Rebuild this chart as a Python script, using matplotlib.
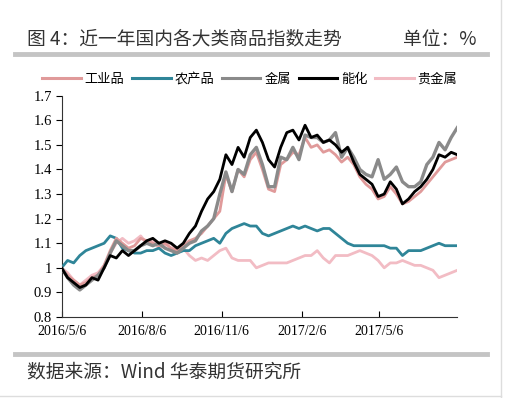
import pandas as pd
import matplotlib.pyplot as plt
from matplotlib.lines import Line2D

plt.rcParams['font.family'] = ['Noto Sans CJK SC', 'DejaVu Sans']

# weekly samples, 2016/5/6 .. 2017/8/4
dates = pd.date_range('2016-05-06', periods=66, freq='7D')

industrial = [1.00, 0.97, 0.95, 0.93, 0.94, 0.96, 0.97, 1.01, 1.07, 1.12,
              1.10, 1.08, 1.09, 1.12, 1.11, 1.10, 1.09, 1.10, 1.08, 1.07,
              1.09, 1.11, 1.12, 1.14, 1.17, 1.20, 1.23, 1.38, 1.31, 1.40,
              1.37, 1.44, 1.47, 1.40, 1.32, 1.31, 1.42, 1.44, 1.47, 1.46,
              1.53, 1.49, 1.50, 1.47, 1.48, 1.46, 1.43, 1.45, 1.42, 1.37,
              1.34, 1.32, 1.28, 1.29, 1.33, 1.30, 1.26, 1.27, 1.29, 1.31,
              1.34, 1.37, 1.40, 1.43, 1.44, 1.45]
agri = [1.00, 1.03, 1.02, 1.05, 1.07, 1.08, 1.09, 1.10, 1.13, 1.12,
        1.08, 1.07, 1.06, 1.06, 1.07, 1.07, 1.08, 1.06, 1.05, 1.06,
        1.07, 1.07, 1.09, 1.10, 1.11, 1.12, 1.10, 1.14, 1.16, 1.17,
        1.18, 1.17, 1.17, 1.14, 1.13, 1.14, 1.15, 1.16, 1.17, 1.16,
        1.17, 1.16, 1.15, 1.16, 1.16, 1.14, 1.12, 1.10, 1.09, 1.09,
        1.09, 1.09, 1.09, 1.09, 1.08, 1.08, 1.05, 1.07, 1.07, 1.07,
        1.08, 1.09, 1.10, 1.09, 1.09, 1.09]
metals = [1.00, 0.96, 0.93, 0.91, 0.93, 0.95, 0.97, 1.00, 1.06, 1.11,
          1.09, 1.07, 1.07, 1.09, 1.10, 1.09, 1.10, 1.08, 1.07, 1.06,
          1.08, 1.10, 1.11, 1.15, 1.17, 1.20, 1.30, 1.39, 1.31, 1.40,
          1.38, 1.46, 1.49, 1.42, 1.33, 1.33, 1.45, 1.44, 1.49, 1.44,
          1.54, 1.53, 1.53, 1.51, 1.52, 1.55, 1.45, 1.49, 1.45, 1.40,
          1.38, 1.37, 1.44, 1.36, 1.38, 1.41, 1.35, 1.33, 1.33, 1.35,
          1.42, 1.45, 1.51, 1.48, 1.53, 1.57]
energy = [1.00, 0.96, 0.94, 0.92, 0.93, 0.96, 0.95, 1.00, 1.05, 1.04,
          1.07, 1.05, 1.07, 1.09, 1.11, 1.12, 1.10, 1.11, 1.10, 1.08,
          1.10, 1.14, 1.17, 1.23, 1.28, 1.31, 1.36, 1.46, 1.42, 1.49,
          1.45, 1.53, 1.56, 1.51, 1.44, 1.41, 1.49, 1.55, 1.56, 1.52,
          1.58, 1.53, 1.54, 1.51, 1.52, 1.50, 1.47, 1.49, 1.43, 1.38,
          1.36, 1.34, 1.29, 1.30, 1.35, 1.32, 1.26, 1.28, 1.31, 1.33,
          1.36, 1.40, 1.46, 1.45, 1.47, 1.46]
precious = [1.00, 0.98, 0.95, 0.93, 0.95, 0.97, 0.98, 1.01, 1.06, 1.10,
            1.12, 1.10, 1.11, 1.13, 1.10, 1.11, 1.08, 1.09, 1.10, 1.07,
            1.08, 1.05, 1.03, 1.04, 1.03, 1.05, 1.07, 1.08, 1.04, 1.03,
            1.03, 1.03, 1.00, 1.01, 1.02, 1.02, 1.02, 1.02, 1.03, 1.04,
            1.05, 1.05, 1.07, 1.04, 1.02, 1.05, 1.05, 1.05, 1.06, 1.07,
            1.06, 1.05, 1.03, 1.00, 1.02, 1.02, 1.03, 1.02, 1.01, 1.01,
            1.00, 0.99, 0.96, 0.97, 0.98, 0.99]

labels = ['工业品', '农产品', '金属', '能化', '贵金属']
tick_dates = ['2016-05-06', '2016-08-06', '2016-11-06', '2017-02-06', '2017-05-06']
tick_labels = ['2016/5/6', '2016/8/6', '2016/11/6', '2017/2/6', '2017/5/6']
y_ticks = [0.8, 0.9, 1.0, 1.1, 1.2, 1.3, 1.4, 1.5, 1.6, 1.7]
y_labels = ['0.8', '0.9', '1', '1.1', '1.2', '1.3', '1.4', '1.5', '1.6', '1.7']

fig = plt.figure(figsize=(5.1, 3.98), dpi=100)
ax = fig.add_axes([0.1206, 0.2035, 0.776, 0.556])

ax.plot(dates, precious, color='#f2bcc4', lw=2.0, label=labels[4], zorder=2)
ax.plot(dates, agri, color='#2f8598', lw=2.0, label=labels[1], zorder=3)
ax.plot(dates, industrial, color='#e09a9a', lw=2.0, label=labels[0], zorder=4)
ax.plot(dates, metals, color='#8a8a8a', lw=2.4, label=labels[2], zorder=5)
ax.plot(dates, energy, color='black', lw=2.0, label=labels[3], zorder=6)

ax.set_xlim(dates[0], dates[-1])
ax.set_ylim(0.8, 1.7)
ax.set_xticks(pd.to_datetime(tick_dates))
ax.set_xticklabels(tick_labels, family='Liberation Serif', fontsize=10)
ax.set_yticks(y_ticks)
ax.set_yticklabels(y_labels, family='Liberation Serif', fontsize=10.5)
ax.tick_params(axis='x', direction='in', length=4, pad=6)
ax.tick_params(axis='y', direction='out', length=4, pad=3)
for s in ['top', 'right']:
    ax.spines[s].set_visible(False)
ax.spines['left'].set_color('#333333')
ax.spines['bottom'].set_color('#333333')

colors = ['#e09a9a', '#2f8598', '#8a8a8a', 'black', '#f2bcc4']
handles = [Line2D([], [], color=c, lw=2.2) for c in colors]
fig.legend(handles, labels, loc='center', bbox_to_anchor=(0.49, 0.80), ncol=5,
           frameon=False, handlelength=2.9, handletextpad=0.3,
           columnspacing=0.6, prop={'family': ['Noto Sans CJK SC'], 'size': 9.5})

# title, unit and source
fig.text(0.052, 0.902, '图 4：近一年国内各大类商品指数走势', fontsize=13.5, color='#333333', va='center')
fig.text(0.935, 0.902, '单位：%', fontsize=13.5, color='#333333', va='center', ha='right')
fig.text(0.052, 0.065, '数据来源：Wind 华泰期货研究所', fontsize=13.5, color='#333333', va='center')
fig.add_artist(Line2D([0.03, 0.955], [0.864, 0.864], color='#c4c4c4', lw=3.5))
fig.add_artist(Line2D([0.03, 0.955], [0.111, 0.111], color='#c4c4c4', lw=3.5))
fig.add_artist(Line2D([0.982, 0.982], [0.0, 1.0], color='#dddddd', lw=1))
fig.add_artist(Line2D([0.0, 0.982], [0.004, 0.004], color='#dddddd', lw=1))

plt.savefig('out.png', dpi=100)
